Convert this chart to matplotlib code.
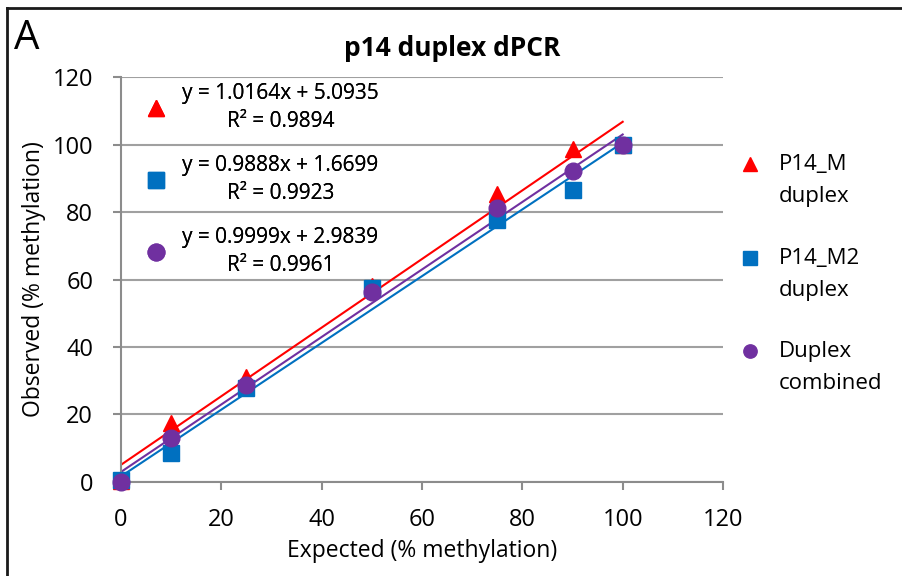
import numpy as np
import matplotlib
matplotlib.use("Agg")
import matplotlib.pyplot as plt
from matplotlib.lines import Line2D
from matplotlib.legend_handler import HandlerLine2D

plt.rcParams['font.family'] = ['Open Sans', 'DejaVu Sans']

# data
expected = [0, 10, 25, 50, 75, 90, 100]
p14_m = [0.3, 17.5, 31.2, 58.0, 85.3, 98.7, 100.0]
p14_m2 = [0.5, 8.5, 28.0, 57.5, 77.6, 86.4, 100.0]
combined = [0.0, 13.1, 28.7, 56.3, 81.1, 92.2, 100.0]

names = ['P14_M\nduplex', 'P14_M2\nduplex', 'Duplex\ncombined']
slopes = [1.0164, 0.9888, 0.9999]
intercepts = [5.0935, 1.6699, 2.9839]
r2 = [0.9894, 0.9923, 0.9961]
colors = ['#ff0000', '#0070c0', '#7030a0']
markers = ['^', 's', 'o']


class FirstLineHandler(HandlerLine2D):
    # put the legend marker next to the first text line, like Excel does
    def create_artists(self, legend, orig_handle, xdescent, ydescent, width, height,
                       fontsize, trans):
        arts = super().create_artists(legend, orig_handle, xdescent, ydescent, width,
                                      height, fontsize, trans)
        for a in arts:
            a.set_ydata(np.asarray(a.get_ydata()) + 12.0)
        return arts


fig = plt.figure(figsize=(9.03, 5.76), dpi=100)
ax = fig.add_axes([0.134, 0.1632, 0.6667, 0.7031])

series = [p14_m, p14_m2, combined]
data_handles = []
for i, ys in enumerate(series):
    xs = np.array([expected[0], expected[-1]])
    ax.plot(xs, slopes[i] * xs + intercepts[i], color=colors[i], lw=1.5, zorder=2)
for i, ys in enumerate(series):
    h, = ax.plot(expected, ys, linestyle='none', marker=markers[i], ms=12,
                 color=colors[i], zorder=3 + i, clip_on=False)
    data_handles.append(h)

ax.set_xlim(0, 120)
ax.set_ylim(0, 120)
ax.set_xticks(np.arange(0, 121, 20))
ax.set_yticks(np.arange(0, 121, 20))
ax.yaxis.grid(True, color='#a0a0a0', lw=1.5)
ax.set_axisbelow(True)
for s in ['top', 'right']:
    ax.spines[s].set_visible(False)
for s in ['left', 'bottom']:
    ax.spines[s].set_color('#8c8c8c')
    ax.spines[s].set_linewidth(1.5)
ax.tick_params(axis='both', direction='out', length=6, width=1.5, color='#8c8c8c',
               labelsize=17)
ax.tick_params(axis='x', pad=13)
ax.tick_params(axis='y', pad=14)
ax.set_xlabel('Expected (% methylation)', fontsize=16.5, labelpad=5)
ax.set_ylabel('Observed (% methylation)', fontsize=16.5, labelpad=5)
fig.text(452 / 903, 1 - 48 / 576, 'p14 duplex dPCR', fontsize=19, fontweight='bold',
         ha='center', va='center')

eq_labels = [f'y = {slopes[i]:.4f}x + {intercepts[i]:.4f}\nR² = {r2[i]:.4f}' for i in range(3)]
leg1 = ax.legend(data_handles, eq_labels, loc='upper left', bbox_to_anchor=(0.0, 1.015),
                 frameon=False, fontsize=15, handletextpad=0.15, labelspacing=1.13,
                 borderaxespad=0.2, handlelength=2.2)
for t in leg1.get_texts():
    t.set_multialignment('center')
    t.set_linespacing(1.4)
ax.add_artist(leg1)

leg2 = fig.legend(data_handles, names, loc='center left', bbox_to_anchor=(0.784, 0.524),
                  frameon=False, fontsize=16, handletextpad=0.3, labelspacing=1.81,
                  markerscale=0.8, handler_map={Line2D: FirstLineHandler()})
for t in leg2.get_texts():
    t.set_linespacing(1.7)

fig.text(0.015, 0.915, 'A', fontsize=29)
fig.add_artist(Line2D([7 / 903, 7 / 903], [0, 1 - 8 / 576], color='#1a1a1a', lw=2,
                      transform=fig.transFigure))
fig.add_artist(Line2D([7 / 903, 1], [1 - 8 / 576, 1 - 8 / 576], color='#1a1a1a', lw=2,
                      transform=fig.transFigure))

fig.savefig('out.png', dpi=100)
